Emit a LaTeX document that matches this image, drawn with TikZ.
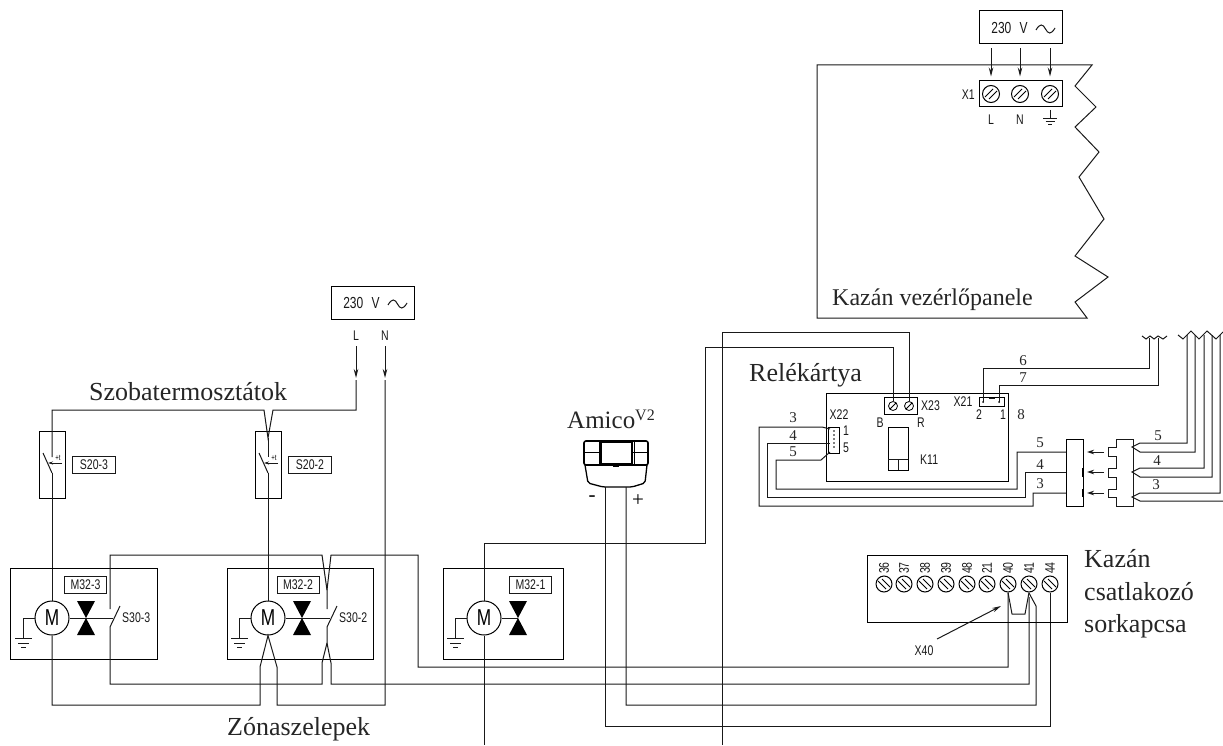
\documentclass[tikz,border=0pt]{standalone}
\usepackage{fontspec}
\setmainfont{Liberation Serif}
\newfontfamily\draftfont[FakeStretch=0.75]{Liberation Sans}
\usetikzlibrary{arrows.meta}
\tikzset{
  wire/.style={line width=1pt,black!90,line join=miter},
  tip/.style={wire,-{Stealth[length=9pt,width=4.5pt]}},
  draft/.style={font=\draftfont\fontsize{14}{14}\selectfont,inner sep=0pt,black!90},
  title/.style={font=\fontsize{26}{28}\selectfont,inner sep=0pt,anchor=base west,black!85},
  digit/.style={font=\fontsize{15}{15}\selectfont,inner sep=0pt,black!85},
  tagbox/.style={draft,draw,line width=1pt,minimum width=43pt,minimum height=17pt},
  motor/.style={circle,draw,line width=1pt,minimum size=34pt,inner sep=0pt,font=\draftfont\fontsize{23}{23}\selectfont},
  screwa/.style={circle,draw,line width=1pt,minimum size=#1,inner sep=0pt,
    path picture={\draw[line width=0.8pt] (path picture bounding box.center) ++(-6,3) -- ++(8,-8)
      (path picture bounding box.center) ++(-2,5) -- ++(8,-8);}},
  screwb/.style={circle,draw,line width=1pt,minimum size=16pt,inner sep=0pt,
    path picture={\draw[line width=0.8pt] (path picture bounding box.center) ++(-6,-3) -- ++(8,8)
      (path picture bounding box.center) ++(-2,-5) -- ++(8,8);}},
  screwc/.style={circle,draw,line width=0.8pt,minimum size=9pt,inner sep=0pt,
    path picture={\draw[line width=0.8pt] (path picture bounding box.center) ++(-3,3) -- ++(6,-6);}},
  frame/.style={draw,line width=1pt,inner sep=0pt},
}
\begin{document}
\begin{tikzpicture}[x=1pt,y=-1pt]
  \useasboundingbox (0,0) rectangle (1223,746);
  % mains boxes
  \foreach \bx/\by/\nm in {979/11/vtop,331/286/vleft}{
    \node[frame,minimum width=83pt,minimum height=33pt] (\nm) at (\bx+41.5,\by+16.5) {};
    \node[draft,font=\draftfont\fontsize{16}{16}\selectfont] (\nm txt) at (\bx+30.5,\by+17) {230\hspace{5pt} V};
    \draw[wire] (\bx+57,\by+19) .. controls (\bx+61,\by+12) and (\bx+64,\by+13) .. (\bx+66.5,\by+18)
      .. controls (\bx+69,\by+23) and (\bx+72,\by+24) .. (\bx+76,\by+17);
  }
  % boiler panel
  \draw[wire] (1092,65) -- (817,65) -- (817,318) -- (1087,318) -- (1075,302) -- (1108,277) -- (1075,256)
    -- (1104,219) -- (1079,177) -- (1099,152) -- (1075,127) -- (1096,107) -- (1075,86) -- cycle;
  \node[title,font=\fontsize{24}{26}\selectfont] (panel) at (832,305) {Kazán vezérlőpanele};
  % X1 terminal
  \node[frame,minimum width=83pt,minimum height=26pt] (x1) at (1020.5,94) {};
  \node[draft,anchor=east] (x1txt) at (975,95) {X1};
  \foreach \nm/\x/\t in {xl/991/L,xn/1020/N}{
    \node[screwa=17pt] (\nm) at (\x,94) {};
    \node[draft] (\nm txt) at (\x,120) {\t};
    \draw[tip,shorten <=4pt,shorten >=8.5pt] (vtop.south -| \nm) -- (\nm.north);
  }
  \node[screwa=17pt] (xe) at (1050,94) {};
  \draw[tip,shorten <=4pt,shorten >=8.5pt] (vtop.south -| xe) -- (xe.north);
  \draw[wire] (1050,110) -- (1050,119) (1043,119) -- (1057,119) (1045.5,122) -- (1054.5,122) (1048,125) -- (1052,125);
  % thermostats
  \node[title] (szoba) at (89,400) {Szobatermosztátok};
  \node[draft] (ltxt) at (356,336) {L};
  \node[draft] (ntxt) at (385,336) {N};
  \coordinate (lhead) at (356,378);
  \coordinate (nhead) at (385,378);
  \draw[tip,shorten <=5pt] (ltxt) -- (lhead);
  \draw[tip,shorten <=5pt] (ntxt) -- (nhead);
  \foreach \x/\nm/\t in {52/a/S20-3,268/b/S20-2}{
    \node[frame,minimum width=26pt,minimum height=67pt] (th\nm) at (\x,464.5) {};
    \node[tagbox] (st\nm) at (\x+42,464.5) {\t};
    \draw[wire] (\x-9,453) -- (\x,473);
    \draw[tip,-{Stealth[length=5pt,width=3pt]}] (\x+10,463) -- (\x-4,463);
    \node[font=\draftfont\fontsize{8}{8}\selectfont,inner sep=0pt] (pl\nm) at (\x+6,458) {+t};
    \draw[wire] (\x,473) -- (\x,601);
  }
  \coordinate (split) at (268,438);
  \draw[wire] (lhead) ++(0,2) -- (356,410) -- (273,410) -- (split) -- (264,410) -- (52,410) -- (52,457);
  \draw[wire] (split) -- (268,457);
  % zone valves
  \foreach \x/\nm/\bl/\br/\t/\tx in {52/a/10/157/M32-3/85.5,268/b/227/373/M32-2/298,484/c/443/563/M32-1/530.5}{
    \node[frame,minimum width=\br-\bl,minimum height=91pt] (bx\nm) at ({(\bl+\br)/2},613.5) {};
    \node[motor] (m\nm) at (\x,618) {M};
    \node[tagbox,minimum width=42pt] (tg\nm) at (\tx,585) {\t};
    \fill[black] (\x+25,601) -- (\x+43,601) -- (\x+25,635) -- (\x+43,635) -- cycle;
    \draw[wire] (m\nm.west) -- (\x-29,618) -- (\x-29,638) (\x-37,638) -- (\x-20,638) (\x-34,643) -- (\x-23,643) (\x-31,647) -- (\x-26,647);
  }
  \draw[wire] (mc.east) -- (518,618);
  \foreach \m/\sx/\t in {a/110/S30-3,b/327/S30-2}{
    \draw[wire] (m\m.east) -- (\sx+3,618);
    \draw[wire] (\sx,627) -- (\sx+10,606);
    \node[draft,anchor=west] (sw\m) at (\sx+12,618) {\t};
  }
  \node[title] (zona) at (227,735) {Zónaszelepek};
  % valve wiring
  \draw[wire] (nhead) ++(0,2) -- (385,705) -- (277,705) -- (277,667) -- (mb.south) -- (260,667) -- (260,705) -- (52,705) -- (ma.south);
  \draw[wire] (110,609) -- (110,555) -- (322,555) -- (327,590) -- (327,609);
  \draw[wire] (327,590) -- (331,555) -- (418,555) -- (418,667) -- (1008,667) -- (1008,593);
  \draw[wire] (110,627) -- (110,684) -- (322,684) -- (322,663) -- (327,643) -- (327,627);
  \draw[wire] (327,643) -- (331,663) -- (331,684) -- (1029,684) -- (1029,597);
  % amico
  \node[title,font=\fontsize{25}{27}\selectfont] (amico) at (567,428) {Amico\raisebox{8pt}{\fontsize{16}{16}\selectfont V2}};
  \draw[line width=1.6pt,rounded corners=2pt] (584,441) -- (648,441) -- (648,465) -- (584,465) -- cycle;
  \draw[line width=1.3pt,rounded corners=2pt] (585,465) -- (588,483) -- (603,487) -- (632,487) -- (645,483) -- (647,465);
  \draw[line width=1.8pt] (601,442) rectangle (632,464);
  \draw[line width=0.8pt] (584,452) -- (600,452) (633,452) -- (648,452) (599,441) -- (599,465) (634,441) -- (634,465);
  \fill (613,465) rectangle (619,467);
  \coordinate (aminus) at (605,487);
  \coordinate (aplus) at (626,487);
  \node[font=\fontsize{21}{21}\selectfont,inner sep=0pt] (minus) at (592,499) {-};
  \node[font=\fontsize{21}{21}\selectfont,inner sep=0pt] (plus) at (638,501) {+};
  \draw[wire] (aminus) -- (605,726) -- (1050,726) -- (1050,593);
  \draw[wire] (aplus) -- (626,705) -- (1036,705) -- (1036,606) -- (1029,593);
  % relay card
  \node[title] (rele) at (749,381) {Relékártya};
  \node[frame,minimum width=182pt,minimum height=88pt] (card) at (917,437) {};
  \node[frame,minimum width=33pt,minimum height=17pt] (x23) at (900.5,405.5) {};
  \node[screwc] (sb) at (893,406) {};
  \node[screwc] (sr) at (909,406) {};
  \draw[wire] (sb.north) -- (893,347) -- (705,347) -- (705,543) -- (484,543) -- (mc.north);
  \draw[wire] (mc.south) -- (484,745);
  \draw[wire] (sr.north) -- (909,332) -- (722,332) -- (722,745);
  \node[draft,anchor=west] (x23txt) at (921,406) {X23};
  \node[draft] (btxt) at (880,423) {B};
  \node[draft] (rtxt) at (921,423) {R};
  \node[frame,minimum width=20pt,minimum height=43pt] (k11) at (898,448.5) {};
  \draw[wire] (888,459) -- (908,459) (898,459) -- (898,470);
  \node[draft,anchor=west] (k11txt) at (920,460) {K11};
  \node[frame,minimum width=25pt,minimum height=9pt] (x21) at (991.5,401.5) {};
  \draw[wire] (989,398) -- (995,398);
  \node[draft] (x21txt) at (963,402) {X21};
  \node[draft] (p2) at (979,415) {2};
  \node[draft] (p1) at (1003,415) {1};
  \node[digit] (p8) at (1021,415) {8};
  \coordinate (pin2) at (983,402);
  \coordinate (pin1) at (999,402);
  \fill (pin2) circle (1pt) (pin1) circle (1pt);
  \draw[wire] (pin2) -- (983,368) -- (1149,368) -- (1149,338);
  \draw[wire] (pin1) -- (999,385) -- (1158,385) -- (1158,338);
  \node[digit] (w6) at (1023,361) {6};
  \node[digit] (w7) at (1023,378) {7};
  \draw[wire] (1142,336) -- (1146,339) -- (1150,336) -- (1154,339) -- (1158,336) -- (1163,339) -- (1167,336);
  \draw[wire] (1178,335) -- (1183,339) -- (1191,331) -- (1199,339) -- (1207,331) -- (1216,339) -- (1223,332);
  % X22 plug
  \node[frame,minimum width=11pt,minimum height=26pt] (x22) at (833.5,440) {};
  \foreach \y in {431,435,439,443,447}{\fill (834,\y) circle (0.8pt);}
  \node[draft] (x22txt) at (839,415) {X22};
  \node[draft] (q1) at (846,431) {1};
  \node[draft] (q5) at (846,448) {5};
  \node[digit] (w3l) at (793,418) {3};
  \node[digit] (w4l) at (793,436) {4};
  \node[digit] (w5l) at (793,452) {5};
  % plug pair
  \node[frame,minimum width=17pt,minimum height=67pt] (cl) at (1074.5,472.5) {};
  \draw[wire] (1133,439) -- (1116,439) -- (1116,447) -- (1108,447) -- (1108,456) -- (1116,456) -- (1116,468) -- (1108,468)
    -- (1108,477) -- (1116,477) -- (1116,489) -- (1108,489) -- (1108,497) -- (1116,497) -- (1116,506) -- (1133,506) -- cycle;
  \draw[line width=2pt] (1083,468) -- (1083,477) (1083,489) -- (1083,497);
  \foreach \y in {452,472,493}{
    \draw[tip,-{Stealth[length=7pt,width=4.5pt]}] (1104,\y) -- (1087,\y);
  }
  \draw[wire] (1066,452) -- (1017,452) -- (1017,489) -- (776,489) -- (776,460) -- (821,460) -- (830,452);
  \draw[wire] (1066,472) -- (1025,472) -- (1025,497) -- (767,497) -- (767,443) -- (830,443);
  \draw[wire] (1066,493) -- (1033,493) -- (1033,506) -- (759,506) -- (759,427) -- (822,427) -- (830,429);
  \node[digit] (w5m) at (1040,443) {5};
  \node[digit] (w4m) at (1040,465) {4};
  \node[digit] (w3m) at (1040,484) {3};
  \draw[wire] (1187,335) -- (1187,443) -- (1140,443) -- (1132,447) -- (1140,452) -- (1195,452) -- (1195,335);
  \draw[wire] (1204,335) -- (1204,468) -- (1140,468) -- (1132,472) -- (1140,477) -- (1212,477) -- (1212,335);
  \draw[wire] (1220,335) -- (1220,493) -- (1140,493) -- (1132,497) -- (1140,501) -- (1223,501);
  \node[digit] (w5r) at (1158,436) {5};
  \node[digit] (w4r) at (1157,461) {4};
  \node[digit] (w3r) at (1156,485) {3};
  % boiler terminal strip
  \node[frame,minimum width=200pt,minimum height=67pt] (strip) at (967,588.5) {};
  \foreach \n/\x in {36/884,37/904,38/925,39/946,48/967,21/987,40/1008,41/1029,44/1050}{
    \node[screwb] (t\n) at (\x,584) {};
    \node[draft,rotate=90] (l\n) at (\x,568) {\n};
  }
  \draw[wire] (t40.south) -- (1012,614) -- (1025,614) -- (t41.south);
  \node[draft] (x40txt) at (924,651) {X40};
  \coordinate (x40head) at (1001,606);
  \draw[tip] (937,639) -- (x40head);
  \node[title] (kazan) at (1084,567) {Kazán};
  \node[title] (csat) at (1084,600) {csatlakozó};
  \node[title] (sor) at (1084,632) {sorkapcsa};
\end{tikzpicture}
\end{document}
